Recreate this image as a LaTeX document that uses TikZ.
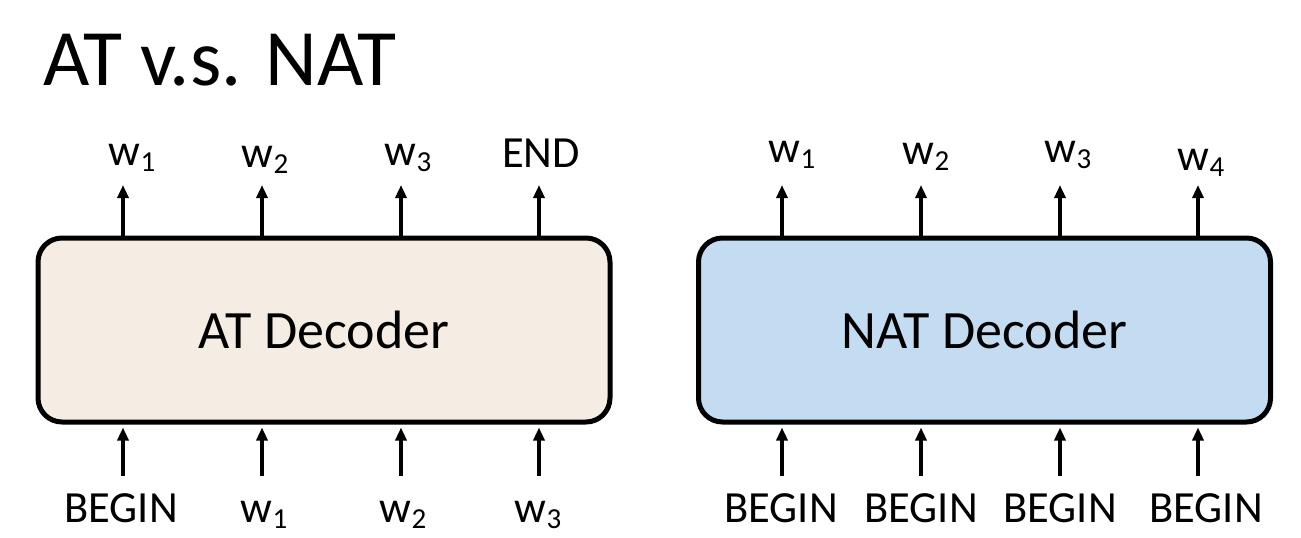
\documentclass[tikz,border=0pt]{standalone}
\usepackage{fontspec}
\setmainfont{Carlito}
\usetikzlibrary{arrows.meta}
\definecolor{atfill}{RGB}{245,237,228}
\definecolor{natfill}{RGB}{196,220,242}
\newcommand\sbs[1]{\raisebox{-6pt}{\fontsize{29}{30}\selectfont #1}}
\tikzset{
  decbox/.style={draw=black, line width=5pt, rounded corners=24pt,
    minimum width=572pt, minimum height=184pt, inner sep=0pt,
    font=\fontsize{54}{60}\selectfont},
  lbl/.style={anchor=base, inner sep=0pt, font=\fontsize{44.5}{50}\selectfont},
  arr/.style={line width=3.5pt, -{Triangle[width=11pt,length=13pt]}}
}
\begin{document}
\begin{tikzpicture}[x=1pt,y=1pt]
\useasboundingbox (0,0) rectangle (1301,-538);
\node[anchor=base west, inner sep=0pt, font=\fontsize{80}{90}\selectfont] (title) at (43,-85) {AT v.s. NAT};

\node[decbox, fill=atfill] (at) at (324,-330) {AT Decoder};
\node[decbox, fill=natfill] (nat) at (984.5,-330) {NAT Decoder};

% AT outputs
\node[lbl] (ao1) at (132,-165) {w\sbs{1}};
\node[lbl] (ao2) at (265,-167) {w\sbs{2}};
\node[lbl] (ao3) at (408,-165) {w\sbs{3}};
\node[lbl] (ao4) at (541,-167) {END};
% AT inputs
\node[lbl] (ai1) at (121,-522) {BEGIN};
\node[lbl] (ai2) at (264,-522) {w\sbs{1}};
\node[lbl] (ai3) at (403,-522) {w\sbs{2}};
\node[lbl] (ai4) at (538,-522) {w\sbs{3}};
% NAT outputs
\node[lbl] (no1) at (792,-162) {w\sbs{1}};
\node[lbl] (no2) at (926,-164) {w\sbs{2}};
\node[lbl] (no3) at (1068,-162) {w\sbs{3}};
\node[lbl] (no4) at (1201,-170) {w\sbs{4}};
% NAT inputs
\node[lbl] (ni1) at (781,-522) {BEGIN};
\node[lbl] (ni2) at (921,-522) {BEGIN};
\node[lbl] (ni3) at (1060,-522) {BEGIN};
\node[lbl] (ni4) at (1206,-522) {BEGIN};

% arrow end coordinates
\foreach \n/\x in {a1/123,a2/262,a3/401,a4/539,n1/782,n2/921,n3/1060,n4/1198}{
  \coordinate (t\n) at (\x,-185);
  \coordinate (b\n) at (\x,-476);
}
\foreach \n in {a1,a2,a3,a4}{
  \draw[arr] (at.north -| t\n) -- (t\n);
  \draw[arr] (b\n) -- ([yshift=-3pt]at.south -| b\n);
}
\foreach \n in {n1,n2,n3,n4}{
  \draw[arr] (nat.north -| t\n) -- (t\n);
  \draw[arr] (b\n) -- ([yshift=-3pt]nat.south -| b\n);
}
\end{tikzpicture}
\end{document}
